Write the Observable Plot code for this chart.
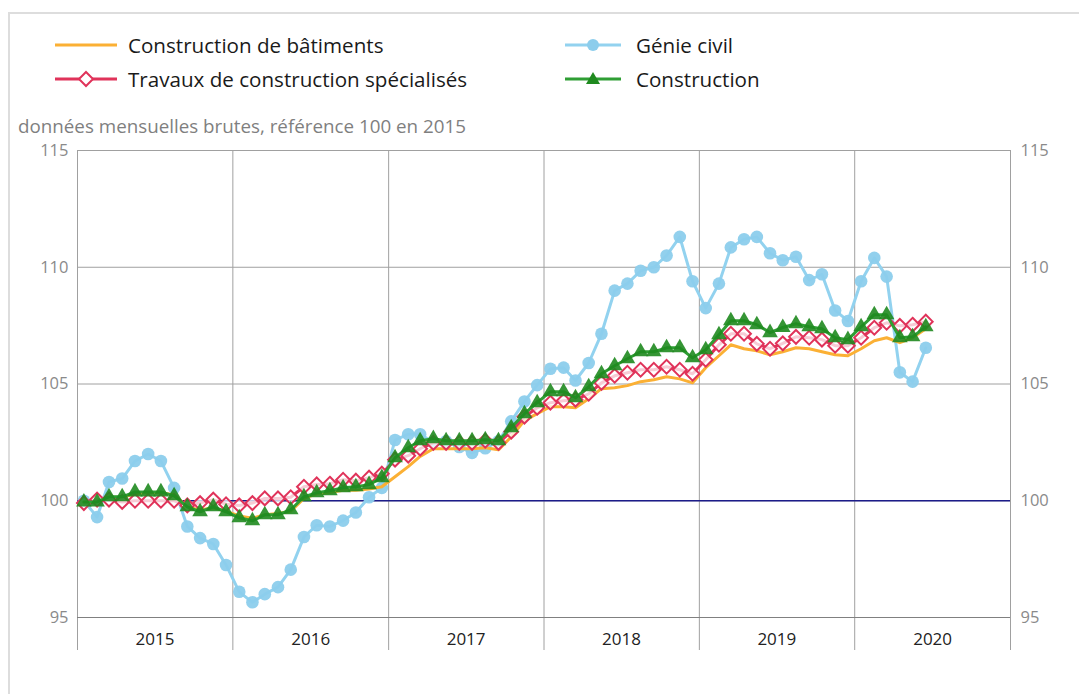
<!DOCTYPE html>
<html><head><meta charset="utf-8">
<script src="https://cdn.jsdelivr.net/npm/d3@7"></script>
<script src="https://cdn.jsdelivr.net/npm/@observablehq/plot@0.6"></script>
<style>
body{margin:0;width:1079px;height:694px;overflow:hidden;background:#fff;font-family:"Open Sans",sans-serif;position:relative}
#frame{position:absolute;left:8px;top:12px;width:1200px;height:800px;border-left:2px solid #ddd;border-top:2px solid #ddd;box-sizing:border-box}
#chart{position:absolute;left:0;top:0}
.leg{position:absolute;display:flex;align-items:center;font-size:20.6px;color:#1a1a1a;white-space:nowrap}
#sub{position:absolute;left:18px;top:113px;font-size:18.8px;line-height:26px;color:#7f7f7f;white-space:nowrap}
</style></head>
<body>
<div id="frame"></div>
<div id="chart"></div>
<div id="sub">données mensuelles brutes, référence 100 en 2015</div>
<script>
const seriesNames = ["Construction de bâtiments","Génie civil","Travaux de construction spécialisés","Construction"];
const startYear = 2015;
const yearLabels = ["2015","2016","2017","2018","2019","2020"];
const yTicks = [95,100,105,110,115];

const batiments = [
 99.9,99.95,100.15,100.15,100.3,100.35,100.35,100.25,99.75,99.6,99.7,99.55,
 99.35,99.25,99.4,99.45,99.55,100.1,100.3,100.35,100.45,100.45,100.5,100.6,
 101.03,101.46,101.9,102.23,102.23,102.23,102.23,102.27,102.18,102.74,103.43,103.73,
 104.03,104.03,103.98,104.37,104.8,104.84,104.93,105.1,105.18,105.31,105.22,105.05,
 105.7,106.21,106.68,106.51,106.42,106.25,106.38,106.55,106.51,106.38,106.25,106.21,
 106.51,106.85,106.98,106.77,106.98,107.37];
const genieCivil = [
 100.0,99.3,100.8,100.95,101.7,102.0,101.7,100.55,98.9,98.4,98.15,97.25,
 96.1,95.65,96.0,96.3,97.05,98.45,98.95,98.9,99.15,99.5,100.15,100.55,
 102.6,102.85,102.85,102.5,102.55,102.3,102.05,102.25,102.55,103.4,104.25,104.95,
 105.65,105.7,105.15,105.9,107.15,109.0,109.3,109.85,110.0,110.5,111.3,109.4,
 108.25,109.3,110.85,111.2,111.3,110.6,110.3,110.45,109.45,109.7,108.15,107.7,
 109.4,110.4,109.6,105.5,105.1,106.55];
const travaux = [
 99.9,100.05,100.05,99.95,100.0,100.0,100.0,100.0,99.8,99.9,100.05,99.85,
 99.8,99.9,100.1,100.1,100.15,100.6,100.7,100.73,100.9,100.86,100.99,101.16,
 101.76,101.93,102.23,102.48,102.48,102.48,102.48,102.57,102.48,102.96,103.6,103.98,
 104.2,104.28,104.33,104.58,105.05,105.35,105.48,105.61,105.61,105.74,105.61,105.44,
 106.04,106.68,107.15,107.15,106.72,106.51,106.74,107.02,106.98,106.9,106.64,106.64,
 106.98,107.41,107.62,107.49,107.54,107.67];
const construction = [
 99.95,99.95,100.17,100.17,100.38,100.38,100.38,100.21,99.74,99.53,99.74,99.53,
 99.27,99.14,99.4,99.4,99.61,100.17,100.34,100.43,100.56,100.6,100.69,100.99,
 101.84,102.27,102.57,102.66,102.57,102.57,102.57,102.61,102.57,103.13,103.73,104.2,
 104.67,104.67,104.41,104.88,105.44,105.78,106.08,106.38,106.38,106.55,106.55,106.12,
 106.47,107.11,107.71,107.71,107.54,107.2,107.42,107.58,107.45,107.37,106.98,106.9,
 107.45,107.97,107.97,106.98,107.02,107.45];

const colors = {bat:"#fbb034", gc:"#92d2ef", gcDot:"#8ccdec", tr:"#e0335a", co:"#2f9e34", coTri:"#1f8a1f"};

const dates = batiments.map((_, i) => new Date(Date.UTC(startYear, i, 16)));
const mk = arr => arr.map((v, i) => ({date: dates[i], value: v}));
const dBat = mk(batiments), dGc = mk(genieCivil), dTr = mk(travaux), dCo = mk(construction);
const yearStarts = d3.range(yearLabels.length + 1).map(k => new Date(Date.UTC(startYear + k, 0, 1)));
const yearMids = yearLabels.map((y, k) => new Date(Date.UTC(startYear + k, 6, 2)));

const plot = Plot.plot({
  width: 1079, height: 694,
  marginLeft: 77, marginRight: 69, marginTop: 150, marginBottom: 77,
  x: {type: "utc", domain: [yearStarts[0], yearStarts[yearStarts.length - 1]]},
  y: {domain: [95, 115]},
  style: {fontFamily: "'Open Sans', sans-serif", fontSize: "16px", color: "#222", background: "transparent", overflow: "visible"},
  marks: [
    Plot.gridY(yTicks, {stroke: "#a0a0a0", strokeOpacity: 1}),
    Plot.gridX(yearStarts, {stroke: "#a0a0a0", strokeOpacity: 1}),
    Plot.axisX(yearStarts, {tickSize: 33, tickFormat: () => "", stroke: "#a0a0a0", strokeOpacity: 1, label: null}),
    Plot.axisX(yearMids, {tickSize: 0, tickPadding: 15, tickFormat: (d, i) => yearLabels[i], fontSize: 17, fill: "#222", label: null}),
    Plot.axisY(yTicks, {anchor: "left", tickSize: 0, tickPadding: 9, fill: "#8a8a8a", fontSize: 16.5, label: null}),
    Plot.axisY(yTicks, {anchor: "right", tickSize: 0, tickPadding: 10, fill: "#8a8a8a", fontSize: 16.5, label: null}),
    Plot.ruleY([95], {stroke: "#808080"}),
    Plot.ruleY([100], {stroke: "#1c1c8a", strokeWidth: 1.5}),
    Plot.line(dGc, {x: "date", y: "value", stroke: colors.gc, strokeWidth: 3}),
    Plot.dot(dGc, {x: "date", y: "value", r: 6.3, fill: colors.gcDot, fillOpacity: 0.95, stroke: "none"}),
    Plot.line(dBat, {x: "date", y: "value", stroke: colors.bat, strokeWidth: 3}),
    Plot.line(dTr, {x: "date", y: "value", stroke: colors.tr, strokeWidth: 3}),
    Plot.dot(dTr, {x: "date", y: "value", symbol: "diamond2", r: 6.2, fill: "#fff", fillOpacity: 0.75, stroke: colors.tr, strokeWidth: 2}),
    Plot.line(dCo, {x: "date", y: "value", stroke: colors.co, strokeWidth: 3}),
    Plot.dot(dCo, {x: "date", y: "value", symbol: "triangle", r: 5.8, fill: colors.coTri, fillOpacity: 0.9, stroke: "none"})
  ]
});
document.getElementById("chart").appendChild(plot);

function legendItem(left, top, name, kind, w, gap) {
  const div = document.createElement("div");
  div.className = "leg";
  div.style.left = left + "px";
  div.style.top = (top - 15) + "px";
  div.style.height = "30px";
  const cx = w / 2;
  let marker = "";
  let col;
  if (kind === "bat") col = colors.bat;
  if (kind === "gc") { col = colors.gc; marker = `<circle cx="${cx}" cy="10" r="6" fill="${colors.gcDot}"/>`; }
  if (kind === "tr") { col = colors.tr; marker = `<path d="M${cx} 3 L${cx+7} 10 L${cx} 17 L${cx-7} 10 Z" fill="#fff" stroke="${colors.tr}" stroke-width="2"/>`; }
  if (kind === "co") { col = colors.co; marker = `<path d="M${cx} 3 L${cx+7} 15 L${cx-7} 15 Z" fill="${colors.coTri}"/>`; }
  div.innerHTML = `<svg width="${w}" height="20" viewBox="0 0 ${w} 20" style="margin-right:${gap}px"><line x1="0" y1="10" x2="${w}" y2="10" stroke="${col}" stroke-width="3"/>${marker}</svg><span>${name}</span>`;
  document.body.appendChild(div);
}
legendItem(55, 45, seriesNames[0], "bat", 62, 11);
legendItem(565, 45, seriesNames[1], "gc", 56, 15);
legendItem(55, 79, seriesNames[2], "tr", 62, 11);
legendItem(565, 79, seriesNames[3], "co", 56, 15);
</script>
</body></html>
